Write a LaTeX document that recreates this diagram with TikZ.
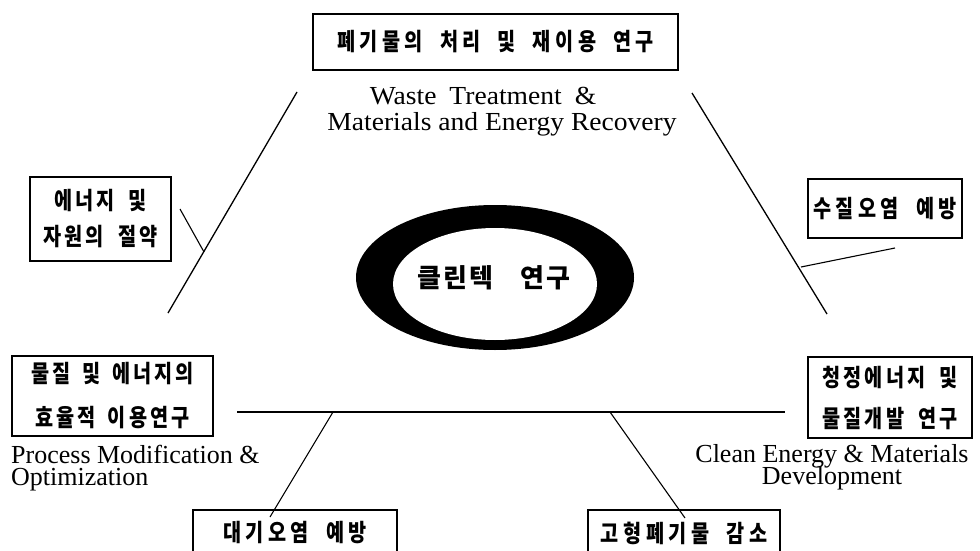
\documentclass[tikz,border=0pt]{standalone}
\usepackage{fontspec}
\setmainfont{Liberation Serif}
\newfontfamily\engwide[FakeStretch=1.06]{Liberation Serif}
\newfontfamily\kr[FakeStretch=0.82]{Noto Sans CJK KR}
\newfontfamily\krbig{Noto Sans CJK KR}
% extra spacing between adjacent Hangul syllables
\newdimen\krgap \krgap=0pt\relax
\newcommand\krspacing[2]{\krgap=#1\relax\spaceskip=#2\relax}
\newcommand\tightlines{\lineskiplimit=-100pt\relax}
\newcommand\widespaces{\spaceskip=13pt\relax}
\XeTeXinterchartokenstate=1
\newXeTeXintercharclass\hangulclass
\count255="AC00\relax
\loop \XeTeXcharclass\count255=\hangulclass\relax \ifnum\count255<"D7A3\relax \advance\count255 by 1\relax \repeat
\XeTeXinterchartoks\hangulclass\hangulclass={\kern\krgap\relax}
\begin{document}
\begin{tikzpicture}[x=1pt,y=-1pt,
  box/.style={draw, line width=2.4pt, inner sep=0pt, align=center,
    font=\kr\bfseries\fontsize{24}{36}\selectfont\krspacing{4.5pt}{17pt}},
  eng/.style={font=\fontsize{26}{22}\selectfont\tightlines, inner sep=0pt, anchor=base},
  ln/.style={line width=1.3pt},
  tick/.style={line width=1.1pt}]
\useasboundingbox (0,0) rectangle (980,551);
\clip (0,0) rectangle (980,551);

% central ellipse
\fill (495,277.5) ellipse [x radius=139pt, y radius=72.5pt];
\fill[white] (495,284) ellipse [x radius=102pt, y radius=56pt];
\node[font=\krbig\bfseries\fontsize{26}{26}\selectfont\krspacing{2pt}{28pt}, inner sep=0pt] (clean) at (494,278) {클린텍 연구};

% boxes
\node[box, minimum width=365pt, minimum height=56pt] (top) at (495.5,42) {폐기물의 처리 및 재이용 연구};
\node[box, minimum width=141pt, minimum height=84pt, font=\kr\bfseries\fontsize{24}{36}\selectfont\krspacing{3pt}{14pt}] (energy) at (100.5,219) {에너지 및\\자원의 절약};
\node[box, minimum width=154pt, minimum height=59pt] (water) at (885,208.5) {수질오염 예방};
\node[box, minimum width=201pt, minimum height=80pt, font=\kr\bfseries\fontsize{24}{44}\selectfont\krspacing{3pt}{12pt}] (effic) at (112.5,396) {물질 및 에너지의\\효율적 이용연구};
\node[box, minimum width=164pt, minimum height=81pt, font=\kr\bfseries\fontsize{24}{41}\selectfont\krspacing{3pt}{14pt}] (cleanen) at (890,397.5) {청정에너지 및\\물질개발 연구};
\node[box, minimum width=204pt, minimum height=46pt] (air) at (295,533) {대기오염 예방};
\node[box, minimum width=192pt, minimum height=46pt] (solid) at (684,533) {고형폐기물 감소};

% English labels
\node[eng, font=\engwide\fontsize{26}{22}\selectfont\widespaces] (w1) at (483,104) {Waste Treatment \&};
\node[eng, font=\engwide\fontsize{26}{22}\selectfont] (w2) at (502,130) {Materials and Energy Recovery};
\node[eng, align=left, anchor=north west] (proc) at (11,445) {Process Modification \&\\Optimization};
\node[eng, align=center, anchor=north] (cleandev) at (832,444) {Clean Energy \& Materials\\Development};

% triangle sides
\coordinate (lt) at (297,92);
\coordinate (lb) at (168,313);
\coordinate (rt) at (692,93);
\coordinate (rb) at (827,314);
\coordinate (bl) at (237,412);
\coordinate (br) at (785,412);
\draw[ln] (lt) -- (lb);
\draw[ln] (rt) -- (rb);
\draw[ln] (bl) -- (br);

% ticks
\coordinate (tl1) at (204,252);
\coordinate (tl2) at (180,209);
\coordinate (tr1) at (801,267);
\coordinate (tr2) at (895,248);
\coordinate (tb1) at (333,412);
\coordinate (tb2) at (270,517);
\coordinate (tc1) at (610,412);
\coordinate (tc2) at (685,518);
\draw[tick] (tl1) -- (tl2);
\draw[tick] (tr1) -- (tr2);
\draw[tick] (tb1) -- (tb2);
\draw[tick] (tc1) -- (tc2);
\end{tikzpicture}
\end{document}
